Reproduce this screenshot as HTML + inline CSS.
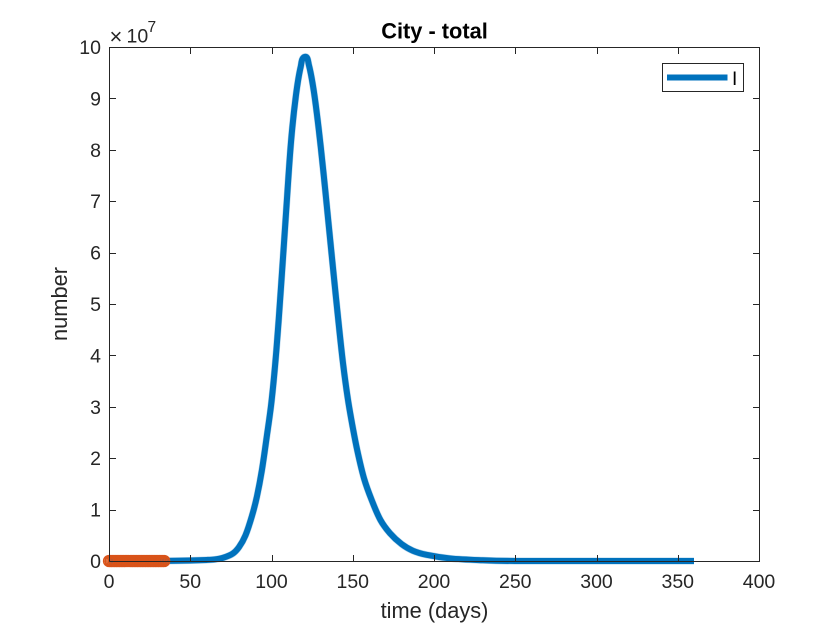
<!DOCTYPE html>
<html>
<head>
<meta charset="utf-8">
<style>
html,body{margin:0;padding:0;background:#fff;}
svg{display:block;}
text{font-family:"Liberation Sans",sans-serif;fill:#262626;}
</style>
</head>
<body>
<svg id="chart" width="840" height="630" viewBox="0 0 840 630" xmlns="http://www.w3.org/2000/svg">
<rect width="840" height="630" fill="#fff"/>
<g id="plot"></g>
<g id="axes"></g>
<text x="434.5" y="38.5" font-size="21.8" font-weight="bold" text-anchor="middle" style="fill:#000">City - total</text>
<text x="434.5" y="618" font-size="21.8" text-anchor="middle">time (days)</text>
<text transform="translate(67 304) rotate(-90)" font-size="21.8" text-anchor="middle">number</text>
<g>
<text x="109.5" y="44" font-size="22">×</text>
<text x="126.5" y="42.5" font-size="19.5">10</text>
<text x="147.5" y="32" font-size="15.5">7</text>
</g>
<g>
<rect x="662.5" y="63.5" width="81" height="28" fill="#fff" stroke="#262626" stroke-width="1"/>
<line x1="667" y1="77.5" x2="727.5" y2="77.5" stroke="#0072BD" stroke-width="6"/>
<text x="732" y="85" font-size="19" style="fill:#000">I</text>
</g>
</svg>
<script>
var xTicks = [0, 50, 100, 150, 200, 250, 300, 350, 400];
var yTicks = [0, 1, 2, 3, 4, 5, 6, 7, 8, 9, 10];
var times = [0,30,50,60,65,70,76,80,84,88,91,94,97,100,103,106,109,112,115,118,120.6,123,126,129,132,135,138,141,144,147,150,153,157,161.6,167,172.9,180,187,195.5,210,230,250,300,360];
var infected = [0,0,0.01,0.02,0.03,0.06,0.14,0.27,0.5,0.88,1.25,1.75,2.4,3.1,4.1,5.4,6.8,8.15,9.05,9.62,9.81,9.65,9.15,8.42,7.55,6.6,5.65,4.72,3.85,3.15,2.6,2.12,1.6,1.19,0.8,0.54,0.33,0.2,0.12,0.05,0.015,0,0,0];
var markerTimes = [0,1,2,3,4,5,6,7,8,9,10,11,12,13,14,15,16,17,18,19,20,21,22,23,24,25,26,27,28,29,30,31,32,33,34];
var markerValues = [0,0,0,0,0,0,0,0,0,0,0,0,0,0,0,0,0,0,0,0,0,0,0,0,0,0,0,0,0,0,0,0,0,0,0];

var NS = 'http://www.w3.org/2000/svg';
var L = 109, R = 759, T = 47, B = 561;
function sx(v){ return L + (v / 400) * (R - L); }
function sy(v){ return B - (v / 10) * (B - T); }
function make(tag, attrs, parent){
  var el = document.createElementNS(NS, tag);
  for (var k in attrs) el.setAttribute(k, attrs[k]);
  parent.appendChild(el);
  return el;
}
var plot = document.getElementById('plot');
var axes = document.getElementById('axes');

function smoothPath(xs, ys){
  var p = xs.map(function(t, i){ return [sx(t), sy(ys[i])]; });
  var d = 'M' + p[0][0].toFixed(2) + ' ' + p[0][1].toFixed(2);
  for (var i = 0; i < p.length - 1; i++){
    var a = p[Math.max(i - 1, 0)], b = p[i], c = p[i + 1], e = p[Math.min(i + 2, p.length - 1)];
    var h = Math.hypot(c[0] - b[0], c[1] - b[1]);
    var ab = Math.max(Math.hypot(c[0] - a[0], c[1] - a[1]), 0.001);
    var ce = Math.max(Math.hypot(e[0] - b[0], e[1] - b[1]), 0.001);
    var c1x = b[0] + (c[0] - a[0]) / ab * h / 3;
    var c1y = b[1] + (c[1] - a[1]) / ab * h / 3;
    var c2x = c[0] - (e[0] - b[0]) / ce * h / 3;
    var c2y = c[1] - (e[1] - b[1]) / ce * h / 3;
    d += 'C' + c1x.toFixed(2) + ' ' + Math.min(c1y, B).toFixed(2) + ' ' + c2x.toFixed(2) + ' ' + Math.min(c2y, B).toFixed(2) + ' ' + c[0].toFixed(2) + ' ' + c[1].toFixed(2);
  }
  return d;
}
var curve = smoothPath(times, infected);
var halo = make('path', {d: curve, fill: 'none', stroke: '#0072BD', 'stroke-opacity': '0.3', 'stroke-width': '7', 'stroke-linejoin': 'round'}, plot);


var line = make('path', {d: curve, fill: 'none', stroke: '#0072BD', 'stroke-width': '6', 'stroke-linejoin': 'round'}, plot);



markerTimes.forEach(function(t, i){
  var c = make('circle', {cx: sx(t).toFixed(2), cy: sy(markerValues[i]).toFixed(2), r: '5.4', fill: 'none', stroke: '#D95319', 'stroke-width': '1.5'}, plot);
  
  
});

var frame = make('path', {d: 'M' + (L+.5) + ' ' + (B+.5) + 'V' + (T+.5) + 'H' + (R+.5) + 'V' + (B+.5) + 'H' + (L+.5), fill: 'none', stroke: '#262626', 'stroke-width': '1'}, axes);



xTicks.forEach(function(v){
  var x = Math.round(sx(v)) + .5;
  var t1 = make('path', {d: 'M' + x + ' ' + (B+.5) + 'v-6.5M' + x + ' ' + (T+.5) + 'v6.5', stroke: '#262626', 'stroke-width': '1', fill: 'none'}, axes);
  
  
  var l = make('text', {x: sx(v), y: 588, 'font-size': '19.5', 'text-anchor': 'middle'}, axes);
  
  
  l.textContent = v;
});
yTicks.forEach(function(v){
  var y = Math.round(sy(v)) + .5;
  var t1 = make('path', {d: 'M' + (L+.5) + ' ' + y + 'h6.5M' + (R+.5) + ' ' + y + 'h-6.5', stroke: '#262626', 'stroke-width': '1', fill: 'none'}, axes);
  
  
  var l = make('text', {x: L - 8, y: sy(v) + 7, 'font-size': '19.5', 'text-anchor': 'end'}, axes);
  
  
  l.textContent = v;
});
</script>
</body>
</html>
